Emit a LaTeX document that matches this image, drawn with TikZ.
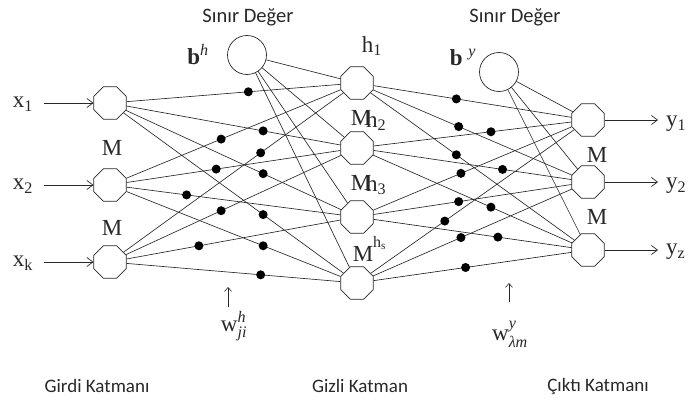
\documentclass[tikz,border=0pt]{standalone}
\usepackage{fontspec}
\usepackage{amsmath}
\setmainfont{Liberation Serif}
\newfontfamily\labfont{Carlito}
\usetikzlibrary{shapes.geometric,calc,arrows.meta}
\definecolor{ink}{RGB}{40,40,40}
\begin{document}
\begin{tikzpicture}[x=1pt,y=-1pt,
  neuron/.style={draw=ink,line width=0.7pt,fill=white,regular polygon,regular polygon sides=8,minimum size=35pt,inner sep=0pt},
  biasn/.style={draw=ink,line width=0.7pt,fill=white,circle,minimum size=39pt,inner sep=0pt},
  conn/.style={draw=ink,line width=0.65pt},
  io/.style={draw=ink,line width=0.7pt,-{Straight Barb[length=6pt,width=9pt]}},
  serif/.style={font=\fontsize{23}{25}\selectfont,text=ink,inner sep=0pt},
  sanslab/.style={font=\labfont\fontsize{19}{21}\selectfont,text=ink,inner sep=0pt},
  sanstop/.style={font=\labfont\fontsize{20.5}{22}\selectfont,text=ink,inner sep=0pt},
  dotc/.style={fill=black}]
\useasboundingbox (0,0) rectangle (688,404);
% nodes
\node[neuron] (i1) at (110,103) {};
\node[neuron] (i2) at (110,185) {};
\node[neuron] (i3) at (110,262) {};
\node[neuron] (h1) at (357,83) {};
\node[neuron] (h2) at (357,148) {};
\node[neuron] (h3) at (357,217) {};
\node[neuron] (h4) at (357,283) {};
\node[neuron] (o1) at (588,120) {};
\node[neuron] (o2) at (588,182) {};
\node[neuron] (o3) at (588,250) {};
\node[biasn] (bh) at (247,55) {};
\node[biasn] (by) at (499,72) {};
% connections
\foreach \a in {i1,i2,i3}{\foreach \b in {h1,h2,h3,h4}{\path[conn] (\a) -- (\b);}}
\foreach \a in {h1,h2,h3,h4}{\foreach \b in {o1,o2,o3}{\path[conn] (\a) -- (\b);}}
\foreach \b in {h1,h2,h3,h4}{\path[conn] (bh) -- (\b);}
\foreach \b in {o1,o2,o3}{\path[conn] (by) -- (\b);}
% weight dots
\foreach \a/\b/\t in {i1/h1/0.56,i1/h2/0.62,i1/h3/0.62,i1/h4/0.62,
  i2/h1/0.45,i2/h2/0.43,i2/h3/0.31,i2/h4/0.62,
  i3/h1/0.61,i3/h2/0.45,i3/h3/0.36,i3/h4/0.61,
  h1/o1/0.43,h1/o2/0.44,h1/o3/0.43,
  h2/o1/0.58,h2/o2/0.63,h2/o3/0.58,
  h3/o1/0.45,h3/o2/0.44,h3/o3/0.61,
  h4/o1/0.38,h4/o2/0.45,h4/o3/0.47}{
  \fill[dotc] ($(\a.center)!\t!(\b.center)$) circle (4.5pt);}
% input / output arrows
\coordinate (ai1) at (44,103);
\coordinate (ai2) at (44,185);
\coordinate (ai3) at (44,262);
\coordinate (ao1) at (658,120);
\coordinate (ao2) at (658,182);
\coordinate (ao3) at (658,250);
\draw[io] (ai1) -- (i1);
\draw[io] (ai2) -- (i2);
\draw[io] (ai3) -- (i3);
\draw[io] (o1) -- (ao1);
\draw[io] (o2) -- (ao2);
\draw[io] (o3) -- (ao3);
% labels
\node[serif] (lx1) at (23,104) {x\textsubscript{1}};
\node[serif] (lx2) at (23,186) {x\textsubscript{2}};
\node[serif] (lx3) at (23,263) {x\textsubscript{k}};
\node[serif] (lm1) at (112,148) {M};
\node[serif] (lm2) at (112,228) {M};
\node[serif] (lh1) at (372,46) {h\textsubscript{1}};
\node[serif] (lm3) at (361,118) {M};
\node[serif,anchor=west] (lh2) at (366,121) {h\textsubscript{2}};
\node[serif] (lm4) at (361,183) {M};
\node[serif,anchor=west] (lh3) at (366,185) {h\textsubscript{3}};
\node[serif] (lm5) at (363,254) {M};
\node[serif,anchor=west,font=\fontsize{16}{18}\selectfont] (lh4) at (373,243) {h\textsubscript{s}};
\node[serif] (lm6) at (597,155) {M};
\node[serif] (lm7) at (597,217) {M};
\node[serif,anchor=west] (ly1) at (666,124) {y\textsubscript{1}};
\node[serif,anchor=west] (ly2) at (666,186) {y\textsubscript{2}};
\node[serif,anchor=west] (ly3) at (666,252) {y\textsubscript{z}};
\node[serif] (lbh) at (198,55) {\textbf{b}\textsuperscript{\itshape h}};
\node[serif] (lby) at (463,57) {\textbf{b} \textsuperscript{\itshape y}};
% weight labels
\coordinate (wa1) at (228,307);
\coordinate (wb1) at (228,287);
\coordinate (wa2) at (509,302);
\coordinate (wb2) at (509,283);
\draw[draw=ink,line width=0.6pt,-{Straight Barb[length=4pt,width=7pt]}] (wa1) -- (wb1);
\draw[draw=ink,line width=0.6pt,-{Straight Barb[length=4pt,width=7pt]}] (wa2) -- (wb2);
\node[serif] (lw1) at (234,326) {$\text{w}^{\text{\itshape h}}_{\text{\itshape ji}}$};
\node[serif] (lw2) at (510,334) {$\text{w}^{\text{\itshape y}}_{\text{\itshape λm}}$};
% titles
\node[sanstop] (t1) at (248,17) {Sınır Değer};
\node[sanstop] (t2) at (515,17) {Sınır Değer};
\node[sanslab] (t3) at (97,386) {Girdi Katmanı};
\node[sanslab] (t4) at (360,386) {Gizli Katman};
\node[sanslab] (t5) at (598,386) {Çıktı Katmanı};
\end{tikzpicture}
\end{document}
